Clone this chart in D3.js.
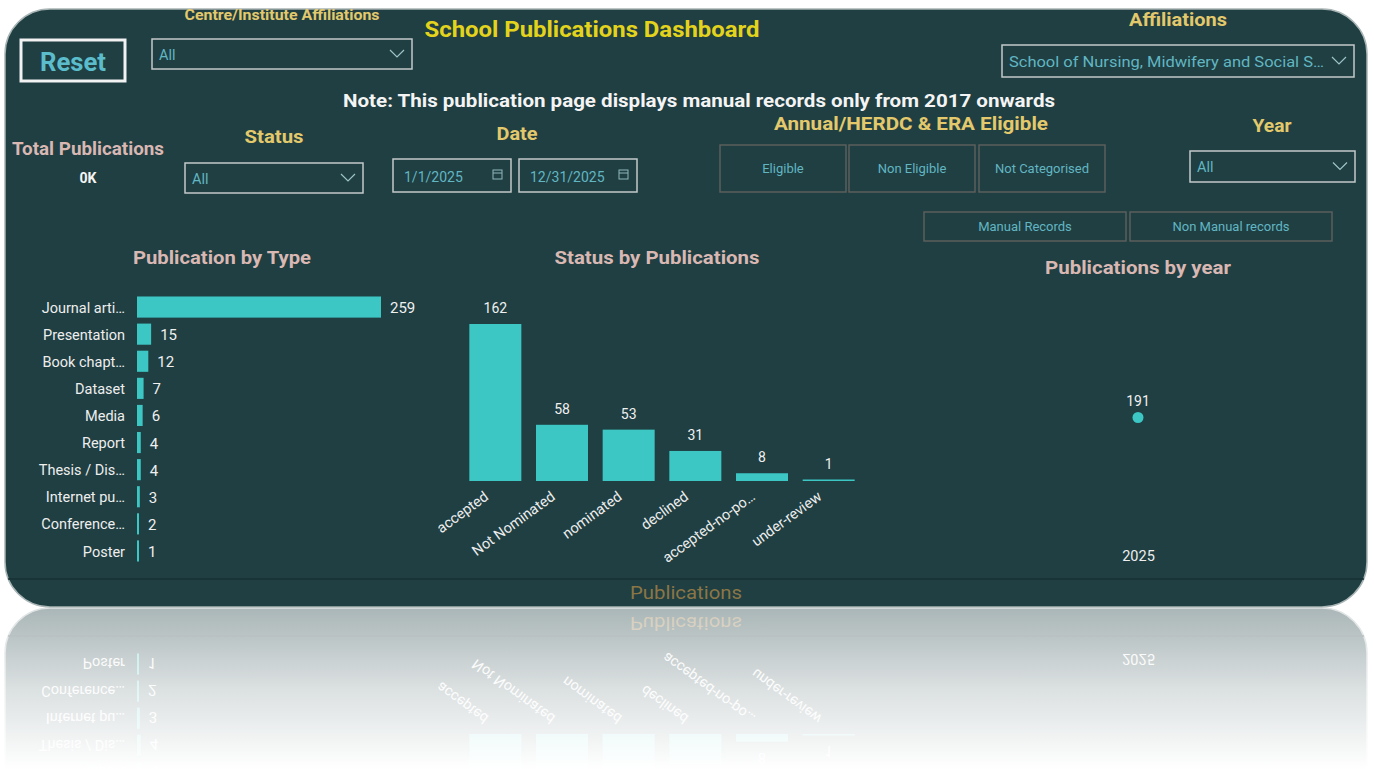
<!DOCTYPE html>
<html>
<head>
<meta charset="utf-8">
<script src="https://cdn.jsdelivr.net/npm/d3@7"></script>
<style>
  body { margin: 0; background: #fff; }
  svg { display: block; font-family: Roboto, "Open Sans", sans-serif; }
</style>
</head>
<body>
<svg id="chart" width="1374" height="769"></svg>
<script>
// publication types (horizontal bars)
const pubTypes = ["Journal arti…", "Presentation", "Book chapt…", "Dataset", "Media", "Report", "Thesis / Dis…", "Internet pu…", "Conference…", "Poster"];
const pubTypeCounts = [259, 15, 12, 7, 6, 4, 4, 3, 2, 1];

// status (vertical bars)
const statuses = ["accepted", "Not Nominated", "nominated", "declined", "accepted-no-po…", "under-review"];
const statusCounts = [162, 58, 53, 31, 8, 1];

// publications by year
const years = ["2025"];
const yearCounts = [191];

const W = 1374, H = 769;
const panelBg = "#1f3f42";
const teal = "#3cc6c4";
const gold = "#e3c96c";
const pink = "#d9b7b3";
const ctrlText = "#62b6c2";

const svg = d3.select("#chart");
const defs = svg.append("defs");

// panel group - everything goes in here so it can be mirrored
const dash = svg.append("g").attr("id", "dash");

dash.append("rect")
  .attr("x", 5).attr("y", 9)
  .attr("width", 1362).attr("height", 598)
  .attr("rx", 45).attr("ry", 45)
  .attr("fill", panelBg)
  .attr("stroke", "#a9b4b4")
  .attr("stroke-width", 1.5);

// bottom separator
dash.append("line")
  .attr("x1", 8).attr("x2", 1364)
  .attr("y1", 579).attr("y2", 579)
  .attr("stroke", "#183234").attr("stroke-width", 1.5);

// text helper, width (optional) stretches the text to the width seen in the picture
function label(x, y, txt, size, color, weight, anchor, width) {
  const t = dash.append("text")
    .attr("x", x).attr("y", y)
    .attr("text-anchor", anchor || "middle")
    .attr("dominant-baseline", "central")
    .attr("font-size", size)
    .attr("font-weight", weight || "bold")
    .attr("fill", color)
    .text(txt);
  if (width) t.attr("textLength", width).attr("lengthAdjust", "spacingAndGlyphs");
  return t;
}

function chevron(x, y) {
  dash.append("path")
    .attr("d", `M${x - 7},${y - 4} L${x},${y + 3} L${x + 7},${y - 4}`)
    .attr("fill", "none").attr("stroke", "#9fc4c8").attr("stroke-width", 1.2);
}

function dropdown(x, y, w, h, txt, tw) {
  dash.append("rect")
    .attr("x", x).attr("y", y).attr("width", w).attr("height", h)
    .attr("fill", "none").attr("stroke", "#c3c9c9").attr("stroke-width", 1.5);
  label(x + 7, y + h / 2 + 1, txt, 14.5, ctrlText, "normal", "start", tw);
  chevron(x + w - 15, y + h / 2);
}

function button(x, y, w, h, txt) {
  dash.append("rect")
    .attr("x", x).attr("y", y).attr("width", w).attr("height", h)
    .attr("fill", "none").attr("stroke", "#5b5f5c").attr("stroke-width", 1.5);
  label(x + w / 2, y + h / 2, txt, 13, ctrlText, "normal");
}

// header controls
dash.append("rect")
  .attr("x", 21).attr("y", 40).attr("width", 104).attr("height", 41)
  .attr("fill", "none").attr("stroke", "#f2f2f2").attr("stroke-width", 3);
label(73, 62, "Reset", 25, "#5bbdcc", "bold", "middle", 66);

label(282, 15, "Centre/Institute Affiliations", 14, gold, "bold", "middle", 195);
dropdown(152, 39, 260, 30, "All");

label(592, 29, "School Publications Dashboard", 22, "#e4d31c", "bold", "middle", 335);

label(1178, 19, "Affiliations", 18, gold, "bold", "middle", 98);
dropdown(1002, 45, 352, 32, "School of Nursing, Midwifery and Social S…", 315);

label(699, 100, "Note: This publication page displays manual records only from 2017 onwards", 18, "#f4f4f4", "bold", "middle", 712);

label(88, 148, "Total Publications", 18, pink, "bold", "middle", 152);
label(88, 178, "0K", 14, "#f4f4f4", "bold", "middle", 17);

label(274, 136, "Status", 19, gold, "bold", "middle", 59);
dropdown(185, 163, 178, 30, "All");

label(517, 133, "Date", 18, gold, "bold", "middle", 41);
[[393, "1/1/2025"], [519, "12/31/2025"]].forEach(([x, t]) => {
  dash.append("rect")
    .attr("x", x).attr("y", 159).attr("width", 118).attr("height", 33)
    .attr("fill", "none").attr("stroke", "#c3c9c9").attr("stroke-width", 1.5);
  label(x + 11, 177, t, 14, ctrlText, "normal", "start");
  // calendar icon
  dash.append("rect")
    .attr("x", x + 100).attr("y", 170).attr("width", 9).attr("height", 9)
    .attr("fill", "none").attr("stroke", "#8fb8bc").attr("stroke-width", 1);
  dash.append("line")
    .attr("x1", x + 100).attr("x2", x + 109).attr("y1", 173).attr("y2", 173)
    .attr("stroke", "#8fb8bc").attr("stroke-width", 1);
});

label(911, 123, "Annual/HERDC & ERA Eligible", 19, gold, "bold", "middle", 274);
button(720, 145, 126, 47, "Eligible");
button(849, 145, 126, 47, "Non Eligible");
button(979, 145, 126, 47, "Not Categorised");

label(1272, 125, "Year", 19, gold, "bold", "middle", 39);
dropdown(1190, 151, 165, 31, "All");

button(924, 212, 202, 29, "Manual Records");
button(1130, 212, 202, 29, "Non Manual records");

// ---- Publication by Type ----
label(222, 257, "Publication by Type", 19, pink, "bold", "middle", 178);

const yType = d3.scaleBand()
  .domain(pubTypes)
  .range([293.5, 564.5])
  .paddingInner(0.22)
  .paddingOuter(0.11);

const xType = d3.scaleLinear()
  .domain([0, 259])
  .range([137, 381]);

const typeRows = pubTypes.map((t, i) => ({ t: t, v: pubTypeCounts[i] }));

dash.selectAll(".tbar")
  .data(typeRows)
  .enter()
  .append("rect")
  .attr("class", "tbar")
  .attr("x", xType(0))
  .attr("y", d => yType(d.t))
  .attr("width", d => Math.max(2, xType(d.v) - xType(0)))
  .attr("height", yType.bandwidth())
  .attr("fill", teal);

dash.selectAll(".tval")
  .data(typeRows)
  .enter()
  .append("text")
  .attr("class", "tval")
  .attr("x", d => Math.max(xType(0) + 2, xType(d.v)) + 9)
  .attr("y", d => yType(d.t) + yType.bandwidth() / 2 + 1)
  .attr("dominant-baseline", "central")
  .attr("font-size", 15)
  .attr("fill", "#f0f0f0")
  .text(d => d.v);

const typeAxis = dash.append("g")
  .attr("transform", "translate(125,1)")
  .call(d3.axisLeft(yType).tickSize(0).tickPadding(0));
typeAxis.select(".domain").remove();
typeAxis.selectAll("text")
  .attr("font-size", 14.5)
  .attr("font-family", "Roboto, sans-serif")
  .attr("fill", "#eeeeee");

// ---- Status by Publications ----
label(657, 257, "Status by Publications", 19, pink, "bold", "middle", 205);

const xStatus = d3.scaleBand()
  .domain(statuses)
  .range([462, 862])
  .paddingInner(0.22)
  .paddingOuter(0.11);

const yStatus = d3.scaleLinear()
  .domain([0, 162])
  .range([481, 324]);

const statusRows = statuses.map((s, i) => ({ s: s, v: statusCounts[i] }));

dash.selectAll(".sbar")
  .data(statusRows)
  .enter()
  .append("rect")
  .attr("class", "sbar")
  .attr("x", d => xStatus(d.s))
  .attr("y", d => Math.min(yStatus(d.v), yStatus(0) - 1.5))
  .attr("width", xStatus.bandwidth())
  .attr("height", d => Math.max(1.5, yStatus(0) - yStatus(d.v)))
  .attr("fill", teal);

dash.selectAll(".sval")
  .data(statusRows)
  .enter()
  .append("text")
  .attr("class", "sval")
  .attr("x", d => xStatus(d.s) + xStatus.bandwidth() / 2)
  .attr("y", d => yStatus(d.v) - 16)
  .attr("text-anchor", "middle")
  .attr("dominant-baseline", "central")
  .attr("font-size", 14)
  .attr("fill", "#f0f0f0")
  .text(d => d.v);

const statusAxis = dash.append("g")
  .attr("transform", "translate(-5,488)")
  .call(d3.axisBottom(xStatus).tickSize(0).tickPadding(0));
statusAxis.select(".domain").remove();
statusAxis.selectAll("text")
  .attr("font-size", 14.5)
  .attr("font-family", "Roboto, sans-serif")
  .attr("fill", "#eeeeee")
  .attr("text-anchor", "end")
  .attr("dy", "0.35em")
  .attr("x", -7)
  .attr("y", 3)
  .attr("transform", "rotate(-36)");

// ---- Publications by year ----
label(1138, 267, "Publications by year", 19, pink, "bold", "middle", 186);

const xYear = d3.scalePoint()
  .domain(years)
  .range([920, 1356])
  .padding(0.5);

const yYear = d3.scaleLinear()
  .domain([181, 201])
  .range([545, 290]);

const yearRows = years.map((y, i) => ({ y: y, v: yearCounts[i] }));

dash.selectAll(".ydot")
  .data(yearRows)
  .enter()
  .append("circle")
  .attr("cx", d => xYear(d.y))
  .attr("cy", d => yYear(d.v))
  .attr("r", 5.5)
  .attr("fill", teal);

dash.selectAll(".yval")
  .data(yearRows)
  .enter()
  .append("text")
  .attr("x", d => xYear(d.y))
  .attr("y", d => yYear(d.v) - 17)
  .attr("text-anchor", "middle")
  .attr("dominant-baseline", "central")
  .attr("font-size", 14)
  .attr("fill", "#f0f0f0")
  .text(d => d.v);

const yearAxis = dash.append("g")
  .attr("transform", "translate(0,551)")
  .call(d3.axisBottom(xYear).tickSize(0).tickPadding(0));
yearAxis.select(".domain").remove();
yearAxis.selectAll("text")
  .attr("font-size", 14.5)
  .attr("font-family", "Roboto, sans-serif")
  .attr("fill", "#eeeeee");

// cut-off footer title
label(686, 592, "Publications", 19, "#8c7646", "normal", "middle", 112);

// ---- reflection below the panel ----
defs.append("clipPath").attr("id", "reflClip")
  .append("rect").attr("x", 0).attr("y", 608).attr("width", W).attr("height", H - 608);

const fade = defs.append("linearGradient").attr("id", "fade")
  .attr("x1", 0).attr("y1", 0).attr("x2", 0).attr("y2", 1);
fade.append("stop").attr("offset", "0").attr("stop-color", "#fff").attr("stop-opacity", 0.62);
fade.append("stop").attr("offset", "0.5").attr("stop-color", "#fff").attr("stop-opacity", 0.84);
fade.append("stop").attr("offset", "1").attr("stop-color", "#fff").attr("stop-opacity", 1);

svg.append("g")
  .attr("clip-path", "url(#reflClip)")
  .append("use")
  .attr("href", "#dash")
  .attr("transform", "translate(0,1215) scale(1,-1)");

svg.append("rect")
  .attr("x", 0).attr("y", 608)
  .attr("width", W).attr("height", H - 608)
  .attr("fill", "url(#fade)");
</script>
</body>
</html>
